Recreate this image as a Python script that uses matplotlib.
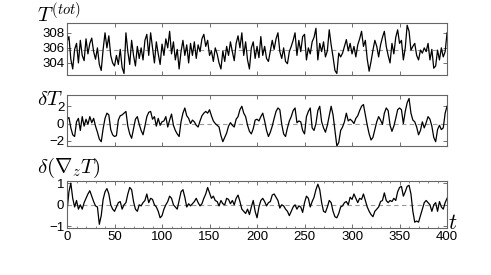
import matplotlib
matplotlib.use('Agg')
import matplotlib.pyplot as plt
import numpy as np

plt.rcParams['mathtext.fontset'] = 'cm'
plt.rcParams['font.family'] = ['Liberation Sans', 'DejaVu Sans']

# sample times (every 2 time units, 0..400)
t = np.arange(0, 401, 2)

# T^(tot)
T_tot = [
    306.8, 307.5, 304.5, 303.2, 305.8, 306.6, 304.0, 307.0, 305.0, 304.3, 307.2,
    305.2, 306.6, 307.3, 305.5, 304.5, 306.0, 303.8, 303.0, 305.8, 308.0,
    306.0, 307.6, 305.0, 304.0, 303.6, 305.0, 303.8, 305.8, 303.4, 302.6,
    308.0, 305.5, 303.8, 307.0, 305.0, 303.6, 306.2, 304.6, 306.0, 304.4,
    307.0, 307.8, 305.0, 308.0, 306.0, 304.0, 306.8, 305.2, 303.8, 306.5,
    305.0, 307.2, 306.0, 308.2, 305.2, 306.8, 304.4, 305.8, 303.2, 305.5,
    307.0, 305.0, 306.4, 304.0, 306.6, 305.0, 306.8, 304.6, 306.4, 305.5,
    307.2, 307.8, 306.2, 307.0, 305.0, 305.6, 304.2, 306.0, 305.2, 304.0,
    303.2, 305.6, 304.2, 306.2, 305.0, 306.8, 305.5, 304.3, 306.6, 307.6,
    306.0, 308.0, 305.0, 306.8, 304.4, 303.2, 306.0, 306.8, 304.6, 306.2,
    304.7, 307.5, 305.0, 306.2, 304.6, 304.2, 305.6, 307.0, 305.8, 307.2,
    308.0, 305.5, 304.6, 306.0, 304.2, 303.9, 305.5, 306.2, 307.0, 308.0,
    305.0, 307.0, 305.5, 307.5, 307.8, 304.4, 306.0, 305.2, 306.8, 307.4,
    308.6, 304.4, 306.6, 305.5, 306.8, 304.8, 305.6, 308.4, 306.4, 304.8,
    303.0, 302.6, 305.3, 304.8, 305.3, 306.2, 307.1, 305.6, 306.6, 305.2,
    306.2, 304.8, 306.4, 307.2, 308.2, 306.2, 307.0, 304.5, 302.9, 304.2,
    305.7, 307.0, 306.2, 304.8, 306.4, 307.4, 308.2, 306.2, 305.0, 304.0,
    306.6, 305.2, 307.4, 308.4, 306.6, 307.0, 304.4, 306.0, 309.0, 308.2,
    305.7, 306.2, 306.6, 305.0, 304.4, 305.7, 305.3, 306.0, 305.5, 306.6,
    304.4, 305.8, 303.3, 303.6, 305.7, 304.4, 306.0, 304.8, 305.5, 308.0,
]
T_mean = 305.7

# delta T
dT = [
    0.5, 0.7, -0.5, -1.3, -1.5, 0.2, 0.6, -0.8, 0.8, -0.3,
    0.5, -0.1, 0.8, 0.1, 0.6, -0.3, -1.0, -1.8, -2.1, -0.6,
    0.6, 1.2, 1.0, -0.7, -1.3, -1.5, -1.4, 0.4, 0.9, 1.0,
    1.2, 1.4, -0.3, -1.2, -1.7, -0.6, 0.5, 0.8, -0.1, -0.8,
    -1.3, -0.3, 0.8, 1.3, 1.4, 0.5, 0.8, -0.3, 0.6, -0.2,
    0.2, 0.3, 0.8, -0.4, 0.4, 1.1, -0.2, -0.8, -1.2, -1.5,
    0.2, 1.2, 1.8, 0.9, 0.6, 0.0, 0.4, 0.2, -0.2, -0.4,
    0.3, 0.9, 1.2, 1.4, 1.2, 1.6, 0.9, 0.3, 0.0, -0.2,
    -0.4, -1.4, -2.1, -1.6, -1.1, -0.3, 0.1, -0.2, -0.4, 0.5,
    0.8, 1.6, 2.0, 1.2, 0.8, -0.2, -0.9, -1.2, -0.6, 0.4, 0.5,
    0.3, 0.8, 1.2, 0.3, -0.8, -1.5, -1.0, -0.3, 0.6, 1.4,
    1.8, 1.6, -0.1, -1.2, -1.5, -0.5, 0.3, 0.8, 1.5, 1.8,
    0.1, 0.3, 0.2, -0.8, -1.2, 0.8, 1.4, 1.8, -0.5, -0.8,
    0.0, 1.5, 2.0, 0.2, -0.5, -1.0, -0.2, 0.9, 2.0, 1.0,
    -0.8, -2.6, -2.2, -0.8, -0.4, 0.2, 1.2, 0.3, 0.5, 0.3,
    0.0, 0.6, 0.9, 1.5, 2.0, 2.2, 1.0, -0.2, -1.2, -1.9,
    -1.6, -0.7, 0.2, 0.8, 0.4, -0.1, 1.2, 1.8, 1.5, -0.2,
    -0.9, -0.3, 0.6, 1.6, 1.8, 1.6, 0.0, 1.4, 2.4, 2.9,
    1.2, 0.4, 0.2, -0.4, -1.3, -0.8, 0.2, -0.5, 0.1, 0.8,
    0.5, -0.3, -1.6, -2.1, -0.7, -0.2, -0.7, -0.5, 1.2, 2.0,
]

# delta (grad_z T)
dG = [
    -0.3, 0.6, 1.0, 0.3, -0.1, 0.2, -0.2, 0.0, -0.2, 0.1,
    0.3, 0.5, 0.65, 0.4, 0.15, -0.05, -0.1, -0.9, -0.5, 0.25,
    0.6, 0.75, 0.5, 0.0, -0.2, -0.3, -0.1, 0.1, 0.15, -0.2,
    0.0, 0.1, 0.5, 0.8, 0.7, 0.15, -0.2, -0.3, 0.0, -0.05,
    0.1, 0.2, 0.5, 0.1, 0.3, 0.25, 0.0, -0.1, -0.3, -0.6,
    -0.5, -0.2, 0.0, 0.15, 0.4, 0.3, 0.0, -0.1, -0.2, 0.2,
    0.6, 0.7, 0.35, -0.1, 0.05, -0.05, 0.05, 0.15, 0.3, 0.1,
    -0.05, 0.05, 0.3, 0.5, 0.8, 0.55, 0.3, 0.4, 0.2, 0.15,
    -0.05, 0.2, 0.05, 0.0, 0.3, 0.25, 0.05, 0.2, 0.0, 0.3,
    0.45, 0.15, -0.2, -0.3, -0.4, -0.2, -0.45, -0.1, 0.2, -0.3, -0.6,
    -0.1, 0.2, 0.3, 0.15, -0.05, 0.1, 0.15, 0.45, 0.5, 0.35,
    0.2, -0.15, 0.0, -0.05, -0.2, -0.3, -0.5, -0.3, -0.1, 0.0,
    -0.2, -0.05, -0.1, -0.35, 0.1, 0.4, 0.3, -0.1, 0.15, 0.35,
    0.7, 0.95, 0.7, 0.1, -0.3, -0.35, -0.1, 0.2, 0.1, -0.3,
    -0.55, -0.6, -0.4, -0.1, -0.05, 0.1, 0.15, 0.0, 0.35, 0.25,
    0.5, 0.3, 0.1, 0.3, 0.25, 0.5, 0.2, -0.1, -0.3, -0.45,
    -0.55, -0.3, -0.2, -0.1, 0.15, 0.2, 0.55, 0.2, 0.1, 0.2,
    0.15, 0.3, 0.2, 0.6, 0.8, 0.85, 0.4, 0.6, 0.85, 0.9,
    0.5, -0.3, -0.8, -0.75, -0.8, -0.5, -0.2, 0.1, 0.2, 0.1,
    0.0, -0.3, 0.0, 0.1, -0.3, 0.15, -0.1, -0.2, 0.1, 0.3,
]

panels = [
    (T_tot, T_mean, (302.4, 309.3), [304, 306, 308], r'$T^{(tot)}$'),
    (dT, 0.0, (-2.6, 3.3), [-2, 0, 2], r'$\delta T$'),
    (dG, 0.0, (-1.07, 1.1), [-1, 0, 1], r'$\delta(\nabla_z T)$'),
]
boxes = [
    [0.1365, 0.7273, 0.774, 0.189],
    [0.1365, 0.469, 0.774, 0.1855],
    [0.1365, 0.1709, 0.774, 0.171],
]
label_y = [0.918, 0.618, 0.37]

fig = plt.figure(figsize=(4.91, 2.75), dpi=100)

for i, (y, ref, ylim, yt, lab) in enumerate(panels):
    ax = fig.add_axes(boxes[i])
    ax.axhline(ref, color='0.6', linestyle='--', linewidth=0.8, dashes=(4, 3))
    ax.plot(t, y, color='black', linewidth=0.9)
    ax.set_xlim(0, 400)
    ax.set_ylim(*ylim)
    ax.set_yticks(yt)
    ax.set_xticks(range(0, 401, 50))
    ax.tick_params(direction='in', top=True, right=True, length=3,
                   width=0.6, color='0.35', labelsize=9.5, pad=2)
    if i < 2:
        ax.tick_params(labelbottom=False)
    else:
        ax.set_xticks(range(0, 401, 10), minor=True)
        ax.tick_params(which='minor', direction='in', top=True,
                       length=1.5, width=0.5, color='0.35')
    for s in ax.spines.values():
        s.set_color('0.4')
        s.set_linewidth(0.8)
    fig.text(0.075, label_y[i], lab, fontsize=15, ha='left', va='baseline')

fig.text(0.912, 0.168, r'$t$', fontsize=16, ha='left', va='baseline')

plt.savefig('out.png', dpi=100)
